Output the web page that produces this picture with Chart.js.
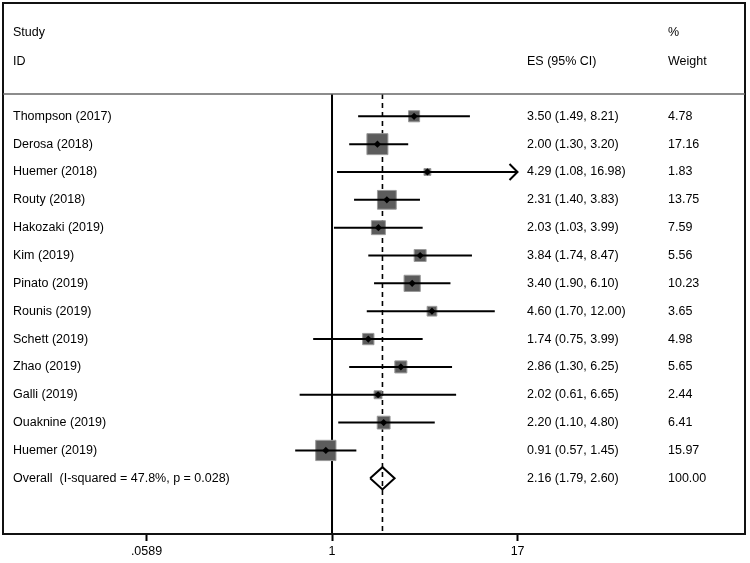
<!DOCTYPE html>
<html>
<head>
<meta charset="utf-8">
<script src="https://cdn.jsdelivr.net/npm/chart.js@4.4.1/dist/chart.umd.min.js"></script>
<style>
  html, body { margin: 0; padding: 0; background: #fff; }
  canvas { display: block; }
</style>
</head>
<body>
<canvas id="forest" width="750" height="563"></canvas>
<script>
// ---- data ----
const STUDIES = ['Thompson (2017)', 'Derosa (2018)', 'Huemer (2018)', 'Routy (2018)', 'Hakozaki (2019)',
  'Kim (2019)', 'Pinato (2019)', 'Rounis (2019)', 'Schett (2019)', 'Zhao (2019)', 'Galli (2019)',
  'Ouaknine (2019)', 'Huemer (2019)'];
const ES      = [3.50, 2.00, 4.29, 2.31, 2.03, 3.84, 3.40, 4.60, 1.74, 2.86, 2.02, 2.20, 0.91];
const CI_LOW  = [1.49, 1.30, 1.08, 1.40, 1.03, 1.74, 1.90, 1.70, 0.75, 1.30, 0.61, 1.10, 0.57];
const CI_HIGH = [8.21, 3.20, 16.98, 3.83, 3.99, 8.47, 6.10, 12.00, 3.99, 6.25, 6.65, 4.80, 1.45];
const WEIGHTS = [4.78, 17.16, 1.83, 13.75, 7.59, 5.56, 10.23, 3.65, 4.98, 5.65, 2.44, 6.41, 15.97];

const OVERALL_LABEL = 'Overall  (I-squared = 47.8%, p = 0.028)';
const OVERALL_ES = [2.16, 1.79, 2.60];   // estimate, low, high
const OVERALL_WEIGHT = 100;

const TICK_VALUES = [0.0589, 1, 17];
const TICK_LABELS = ['.0589', '1', '17'];

// ---- look ----
const FONT = "'Liberation Sans', Arial, Helvetica, sans-serif";
const FS = 12.5;
const SQUARE_K = 5.07;          // square side = K * sqrt(weight)
const DIAMOND_HALF = 0.4;       // overall diamond half height (rows)
const overallRow = STUDIES.length;
const fmt = v => v.toFixed(2);

const datasets = [];

// centre dots
datasets.push({
  type: 'scatter', order: 0,
  data: ES.map((v, i) => ({ x: v, y: i })),
  pointStyle: 'rectRot', pointRadius: 3.6, pointHoverRadius: 3.6,
  backgroundColor: '#000', borderColor: '#000', borderWidth: 0
});

// confidence interval lines
ES.forEach((v, i) => {
  datasets.push({
    type: 'line', order: 1,
    data: [{ x: CI_LOW[i], y: i }, { x: CI_HIGH[i], y: i }],
    borderColor: '#000', borderWidth: 2, pointRadius: 0, fill: false
  });
});

// weight squares
datasets.push({
  type: 'scatter', order: 2,
  data: ES.map((v, i) => ({ x: v, y: i })),
  pointStyle: 'rect',
  pointRadius: WEIGHTS.map(w => SQUARE_K * Math.sqrt(w) / Math.SQRT2),
  pointHoverRadius: WEIGHTS.map(w => SQUARE_K * Math.sqrt(w) / Math.SQRT2),
  backgroundColor: '#5c5c5c', borderColor: '#9a9a9a', borderWidth: 1
});

// overall diamond
datasets.push({
  type: 'line', order: 3,
  data: [
    { x: OVERALL_ES[1], y: overallRow },
    { x: OVERALL_ES[0], y: overallRow - DIAMOND_HALF },
    { x: OVERALL_ES[2], y: overallRow },
    { x: OVERALL_ES[0], y: overallRow + DIAMOND_HALF },
    { x: OVERALL_ES[1], y: overallRow }
  ],
  borderColor: '#000', borderWidth: 2, pointRadius: 0, fill: false, tension: 0
});

// overall estimate (dashed) and line of no effect
datasets.push({
  type: 'line', order: 4,
  data: [{ x: OVERALL_ES[0], y: -0.8 }, { x: OVERALL_ES[0], y: 15 }],
  borderColor: '#000', borderWidth: 1.6, borderDash: [5, 4], pointRadius: 0
});
datasets.push({
  type: 'line', order: 5,
  data: [{ x: 1, y: -0.8 }, { x: 1, y: 15 }],
  borderColor: '#000', borderWidth: 2, pointRadius: 0
});

const forestText = {
  id: 'forestText',
  afterDraw(chart) {
    const { ctx, chartArea: a, scales: { x, y } } = chart;
    const colES = 527, colW = 668, colStudy = 13;
    ctx.save();

    // outer frame and header rule
    ctx.strokeStyle = '#111';
    ctx.lineWidth = 2;
    ctx.strokeRect(a.left, 3, a.right - a.left, a.bottom - 3);
    ctx.strokeStyle = '#666';
    ctx.lineWidth = 1.5;
    ctx.beginPath();
    ctx.moveTo(a.left, a.top); ctx.lineTo(a.right, a.top);
    ctx.stroke();

    // arrow for CI running past the last tick
    ctx.strokeStyle = '#000';
    ctx.lineWidth = 2;
    CI_HIGH.forEach((hi, i) => {
      if (hi < TICK_VALUES[TICK_VALUES.length - 1] * 0.99) return;
      const px = x.getPixelForValue(hi), py = y.getPixelForValue(i);
      ctx.beginPath();
      ctx.moveTo(px - 8, py - 8); ctx.lineTo(px, py); ctx.lineTo(px - 8, py + 8);
      ctx.stroke();
    });

    // text columns
    ctx.fillStyle = '#000';
    ctx.font = FS + 'px ' + FONT;
    ctx.textBaseline = 'middle';
    ctx.textAlign = 'left';
    ctx.fillText('Study', colStudy, 33);
    ctx.fillText('ID', colStudy, 62);
    ctx.fillText('ES (95% CI)', colES, 62);
    ctx.fillText('%', colW, 33);
    ctx.fillText('Weight', colW, 62);

    STUDIES.forEach((s, i) => {
      const py = y.getPixelForValue(i);
      ctx.fillText(s, colStudy, py);
      ctx.fillText(fmt(ES[i]) + ' (' + fmt(CI_LOW[i]) + ', ' + fmt(CI_HIGH[i]) + ')', colES, py);
      ctx.fillText(fmt(WEIGHTS[i]), colW, py);
    });
    const oy = y.getPixelForValue(overallRow);
    ctx.fillText(OVERALL_LABEL, colStudy, oy);
    ctx.fillText(fmt(OVERALL_ES[0]) + ' (' + fmt(OVERALL_ES[1]) + ', ' + fmt(OVERALL_ES[2]) + ')', colES, oy);
    ctx.fillText(fmt(OVERALL_WEIGHT), colW, oy);
    ctx.restore();
  }
};

new Chart(document.getElementById('forest'), {
  data: { datasets },
  options: {
    responsive: false,
    animation: false,
    events: [],
    layout: { autoPadding: false, padding: { left: 3, right: 5, top: 94, bottom: 0 } },
    plugins: { legend: { display: false }, tooltip: { enabled: false } },
    scales: {
      x: {
        type: 'logarithmic',
        bounds: 'data',
        min: Math.exp(-5.023),
        max: Math.exp(6.305),
        afterBuildTicks: s => { s.ticks = TICK_VALUES.map(v => ({ value: v })); },
        afterFit: s => { s.height = 29; s.paddingLeft = 0; s.paddingRight = 0; },
        border: { display: false },
        grid: { drawOnChartArea: false, drawTicks: true, tickLength: 7, tickWidth: 2, tickColor: '#000', color: '#000' },
        ticks: {
          autoSkip: false, maxRotation: 0, padding: 3, color: '#000',
          font: { family: FONT, size: FS },
          callback: v => TICK_LABELS[TICK_VALUES.indexOf(v)]
        }
      },
      y: {
        type: 'linear', bounds: 'data', min: -0.8, max: 15, reverse: true, display: false
      }
    }
  },
  plugins: [forestText]
});
</script>
</body>
</html>
